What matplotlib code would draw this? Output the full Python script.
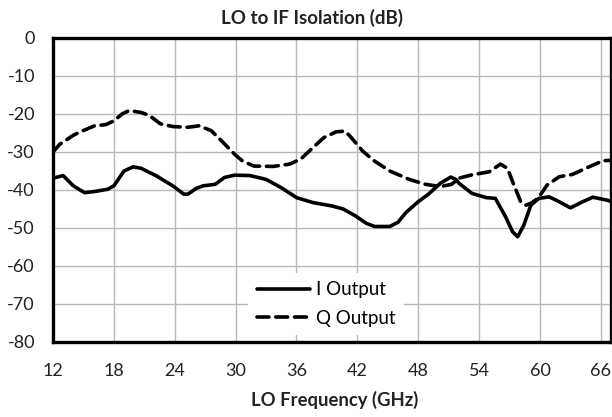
import matplotlib
matplotlib.use("Agg")
import matplotlib.pyplot as plt

plt.rcParams['font.family'] = ['Lato', 'DejaVu Sans']

title = "LO to IF Isolation (dB)"
xlabel = "LO Frequency (GHz)"
series_names = ["I Output", "Q Output"]
xticks = [12, 18, 24, 30, 36, 42, 48, 54, 60, 66]
yticks = [0, -10, -20, -30, -40, -50, -60, -70, -80]

freq_i = [12.0, 13.0, 14.0, 15.1, 16.1, 17.4, 18.0, 19.0, 19.9, 20.7, 22.2, 23.8, 24.9,
          25.3, 26.1, 26.8, 28.0, 28.9, 29.9, 31.4, 33.0, 34.5, 36.0, 37.6, 39.5, 40.6,
          41.8, 42.9, 43.7, 45.2, 46.0, 46.8, 47.9, 49.0, 50.2, 51.2, 51.7, 52.0, 53.3,
          54.7, 55.6, 56.6, 57.3, 57.8, 58.4, 59.1, 59.9, 60.9, 61.9, 63.0, 64.2, 65.2,
          66.5, 67.0]
i_out = [-36.9, -36.2, -38.9, -40.7, -40.4, -39.8, -38.9, -35.0, -33.9, -34.3, -36.3,
         -38.9, -41.1, -41.1, -39.6, -38.9, -38.5, -36.7, -36.1, -36.2, -37.2, -39.4,
         -42.0, -43.3, -44.2, -45.0, -46.8, -48.8, -49.6, -49.6, -48.5, -45.9, -43.3,
         -41.1, -38.2, -36.6, -37.2, -38.2, -40.9, -42.0, -42.2, -47.0, -51.0, -52.3,
         -49.3, -44.0, -42.2, -41.8, -43.1, -44.7, -43.1, -41.9, -42.6, -43.0]

freq_q = [12.0, 12.65, 14.0, 14.6, 16.1, 17.2, 18.0, 18.8, 19.5, 20.7, 21.5, 22.6, 23.8,
          25.3, 26.4, 27.6, 28.7, 29.9, 30.7, 31.8, 33.7, 35.3, 36.4, 37.6, 38.7, 39.9,
          40.8, 41.4, 42.5, 43.7, 45.2, 47.1, 48.7, 50.2, 51.3, 52.0, 53.3, 55.0, 56.1,
          56.8, 57.3, 58.1, 58.6, 59.1, 59.8, 60.7, 61.9, 63.2, 64.5, 66.2, 67.0]
q_out = [-30.0, -28.0, -25.6, -24.8, -23.1, -22.8, -21.8, -20.0, -19.1, -19.6, -20.4,
         -22.6, -23.3, -23.5, -23.1, -24.4, -27.3, -30.6, -32.4, -33.7, -33.8, -33.2,
         -31.9, -28.9, -26.2, -24.7, -24.5, -26.2, -29.7, -32.4, -35.0, -37.2, -38.5,
         -39.1, -38.5, -36.9, -36.0, -35.2, -33.2, -34.3, -37.8, -43.1, -44.0, -43.5,
         -42.2, -38.7, -36.5, -35.9, -34.3, -32.3, -32.2]

fig = plt.figure(figsize=(6.12, 4.17), dpi=100)
W, H = 612, 417
ax = fig.add_axes([53 / W, 1 - 342 / H, (611 - 53) / W, (342 - 38) / H])

ax.plot(freq_i, i_out, color='black', lw=2.6, solid_joinstyle='round',
        solid_capstyle='round', label=series_names[0])
ax.plot(freq_q, q_out, color='black', lw=2.6, linestyle=(0, (3.3, 1.9)),
        dash_capstyle='round', dash_joinstyle='round', label=series_names[1])

ax.set_xlim(12, 67)
ax.set_ylim(-80, 0)
ax.set_xticks(xticks)
ax.set_yticks(yticks)
ax.set_xticklabels([str(t) for t in xticks])
ax.set_yticklabels([str(t) for t in yticks])
ax.grid(True, color='#b8b8b8', lw=1.0)
ax.set_axisbelow(True)
ax.tick_params(axis='both', length=0, labelsize=13, colors='#222222')
ax.tick_params(axis='y', pad=13)
ax.tick_params(axis='x', pad=15)
for s in ax.spines.values():
    s.set_linewidth(2.4)
    s.set_color('black')

leg = ax.legend(loc='center', bbox_to_anchor=(0.489, 0.125), frameon=True,
                fontsize=13.5, handlelength=2.85, handletextpad=0.3,
                labelspacing=0.6, borderpad=0.45, fancybox=False)
leg.get_frame().set_edgecolor('none')
leg.get_frame().set_facecolor('white')
leg.get_frame().set_alpha(1.0)

fig.text(312 / W, 1 - 18 / H, title, ha='center', va='center',
         fontsize=13.5, fontweight='bold', color='#222222')
fig.text(335 / W, 1 - 400 / H, xlabel, ha='center', va='center',
         fontsize=13.3, fontweight='bold', color='#222222')

fig.savefig('out.png', dpi=100)
